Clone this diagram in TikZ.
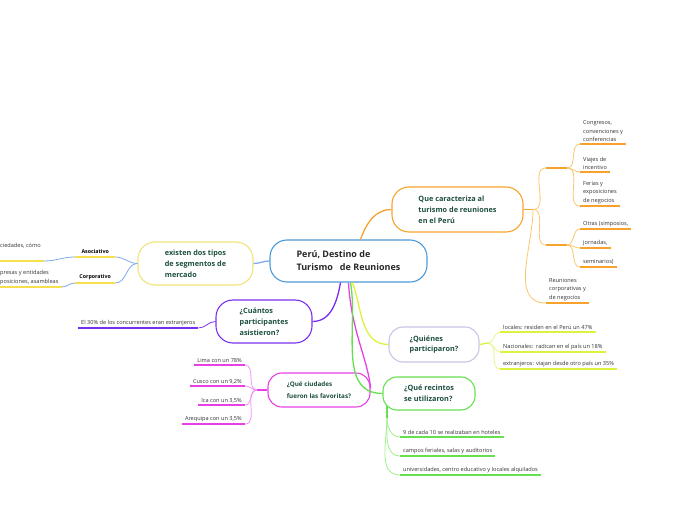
\documentclass[tikz,border=0pt]{standalone}
\usepackage{fontspec}
\setmainfont{Open Sans}
\usetikzlibrary{positioning}

\definecolor{cblue}{HTML}{4A9AD9}
\definecolor{cbluel}{HTML}{7FA8EE}
\definecolor{corange}{HTML}{F7A32B}
\definecolor{corangel}{HTML}{FBC66E}
\definecolor{cyellow}{HTML}{F2E27A}
\definecolor{cyellowd}{HTML}{F5DF4D}
\definecolor{cpurple}{HTML}{7A2FF0}
\definecolor{cmagenta}{HTML}{E640E6}
\definecolor{cmagental}{HTML}{F590F5}
\definecolor{clav}{HTML}{CBC3E6}
\definecolor{clime}{HTML}{DDF23C}
\definecolor{climel}{HTML}{E6F58A}
\definecolor{cgreen}{HTML}{66E050}
\definecolor{cgreenl}{HTML}{9CF08A}
\definecolor{ctext}{HTML}{1C4F3A}
\definecolor{cleaf}{HTML}{333333}

\begin{document}
\begin{tikzpicture}[x=1pt, y=1pt,
    topic/.style={draw, line width=1.1pt, rounded corners=17pt, text=ctext, align=left,
      font=\fontsize{7.3}{10.8}\selectfont\bfseries},
    leaf/.style={text=cleaf, align=left, inner xsep=3pt, inner ysep=2pt,
      font=\fontsize{5.6}{8.5}\selectfont},
    branch/.style={line width=1.3pt},
    twig/.style={line width=0.8pt},
    uline/.style={line width=1.4pt}]
    \useasboundingbox (0,0) rectangle (696,520);

    % Main topics
    \node[topic, draw=cblue, minimum width=157, minimum height=42, text=black!85,
      font=\fontsize{9}{13}\selectfont\bfseries] (ctr) at (348.5,259) {Perú, Destino de\\Turismo\ \ \ de Reuniones};
    \node[topic, draw=corange, minimum width=131, minimum height=45] (orn) at (457.5,310.5) {Que caracteriza al\\turismo de reuniones\\en el Perú};
    \node[topic, draw=cyellow, minimum width=115, minimum height=43] (yel) at (195.5,256.5) {existen dos tipos\\de segmentos de\\mercado};
    \node[topic, draw=cpurple, minimum width=96, minimum height=43] (pur) at (264,198.5) {¿Cuántos\\participantes\\asistieron?};
    \node[topic, draw=cmagenta, minimum width=102, minimum height=34, rounded corners=14pt,
      font=\fontsize{6.3}{12}\selectfont\bfseries] (mag) at (319,130) {¿Qué ciudades\\fueron las favoritas?};
    \node[topic, draw=clav, minimum width=90, minimum height=35, rounded corners=14pt] (lav) at (434,175.5) {¿Quiénes\\participaron?};
    \node[topic, draw=cgreen, minimum width=92, minimum height=33, rounded corners=14pt] (grn) at (429,126.5) {¿Qué recintos\\se utilizaron?};

    % Branches from the centre
    \draw[branch, corange] ([xshift=12]ctr.north) to[out=70, in=180] (orn.west);
    \draw[branch, cbluel] (ctr.west) to[out=180, in=0] (yel.east);
    \draw[branch, cpurple] ([xshift=-8]ctr.south) to[out=-100, in=0] (pur.east);
    \draw[branch, cmagenta] (ctr.south) .. controls (351,190) and (368,160) .. ([yshift=2]mag.east);
    \draw[branch, cgreen] ([xshift=2]ctr.south) to[out=-80, in=180] (grn.west);
    \draw[branch, clime] ([xshift=4]ctr.south) to[out=-70, in=180] (lav.west);

    % Orange branch: hubs and leaves
    \coordinate (oj) at (533,310.5);
    \coordinate (oha) at (546,352); \coordinate (ohb) at (567,352);
    \coordinate (oca) at (546,275); \coordinate (ocb) at (567,275);
    \node[leaf, anchor=south west] (congr) at (580,376) {Congresos,\\convenciones y\\conferencias};
    \node[leaf, anchor=south west] (viaj) at (580,348) {Viajes de\\incentivo};
    \node[leaf, anchor=south west] (feri) at (580,314) {Ferias y\\exposiciones\\de negocios};
    \node[leaf, anchor=south west] (otra) at (580,291) {Otras (simposios,};
    \node[leaf, anchor=south west] (jorn) at (580,272) {jornadas,};
    \node[leaf, anchor=south west] (semi) at (580,253) {seminarios)};
    \node[leaf, anchor=south west] (reun) at (546,217) {Reuniones\\corporativas y\\de negocios};
    \draw[branch, corange] (orn.east) -- (oj);
    \draw[twig, corangel] (oj) to[out=0, in=180] (oha);
    \draw[twig, corangel] (oj) to[out=0, in=180] (oca);
    \draw[twig, corangel] (oj) to[out=-90, in=180] (reun.south west);
    \draw[uline, corange] (oha) -- (ohb);
    \draw[uline, corange] (oca) -- (ocb);
    \foreach \n in {congr, viaj, feri}
      \draw[twig, corangel] (ohb) to[out=0, in=180] (\n.south west);
    \foreach \n in {otra, jorn, semi}
      \draw[twig, corangel] (ocb) to[out=0, in=180] (\n.south west);
    \foreach \n in {congr, viaj, feri, otra, jorn, semi, reun}
      \draw[uline, corange] (\n.south west) -- (\n.south east);

    % Segments (left)
    \node[leaf, anchor=south west, minimum width=40, inner ysep=3pt, text=black,
      font=\fontsize{5.3}{8.5}\selectfont\bfseries] (asoc) at (75,263) {Asociativo};
    \node[leaf, anchor=south west, minimum width=40, inner ysep=3pt, text=black,
      font=\fontsize{5.3}{8.5}\selectfont\bfseries] (corp) at (75,237) {Corporativo};
    \node[leaf, anchor=south west, text depth=11pt] (soci) at (-3,259) {ciedades, cómo};
    \node[leaf, anchor=south west] (empr) at (-3,233) {presas y entidades\\posiciones, asambleas};
    \draw[twig, cbluel] (yel.west) to[out=180, in=0] (asoc.south east);
    \draw[twig, cbluel] (yel.west) to[out=180, in=0] (corp.south east);
    \draw[twig, cbluel] (asoc.south west) to[out=180, in=0] (soci.south east);
    \draw[twig, cbluel] (corp.south west) to[out=180, in=0] (empr.south east);
    \foreach \n in {asoc, corp, soci, empr}
      \draw[uline, cyellowd] (\n.south west) -- (\n.south east);

    % Participants
    \node[leaf, anchor=south west] (conc) at (78,192) {El 30\% de los concurrentes eran extranjeros};
    \draw[twig, cpurple] (conc.south east) to[out=0, in=180] (pur.west);
    \draw[uline, cpurple] (conc.south west) -- (conc.south east);

    % Cities
    \coordinate (mh) at (257,130);
    \node[leaf, anchor=south east] (lima) at (245,155) {Lima con un 78\%};
    \node[leaf, anchor=south east] (cusc) at (245,134) {Cusco con un 9,2\%};
    \node[leaf, anchor=south east] (ica) at (245,115) {Ica con un 3,5\%};
    \node[leaf, anchor=south east] (areq) at (245,96) {Arequipa con un 3,5\%};
    \draw[branch, cmagenta] (mag.west) -- (mh);
    \foreach \n in {lima, cusc, ica, areq} {
      \draw[twig, cmagental] (mh) to[out=180, in=0] (\n.south east);
      \draw[uline, cmagenta] (\n.south west) -- (\n.south east);
    }

    % Who took part
    \coordinate (lh) at (488,177);
    \node[leaf, anchor=south west] (loca) at (500,188) {locales: residen en el Perú un 47\%};
    \node[leaf, anchor=south west] (naci) at (500,168) {Nacionales:\ \ radican en el país un 18\%};
    \node[leaf, anchor=south west] (extr) at (500,151) {extranjeros: viajan desde otro país un 35\%};
    \draw[branch, clime] (lav.east) -- (lh);
    \foreach \n in {loca, naci, extr} {
      \draw[twig, climel] (lh) to[out=0, in=180] (\n.south west);
      \draw[uline, clime] (\n.south west) -- (\n.south east);
    }

    % Venues
    \coordinate (gs) at (387,114);
    \coordinate (gj) at (387,102);
    \node[leaf, anchor=south west] (hote) at (400,83) {9 de cada 10 se realizaban en hoteles};
    \node[leaf, anchor=south west] (camp) at (400,64) {campos feriales, salas y auditorios};
    \node[leaf, anchor=south west] (univ) at (400,45) {universidades, centro educativo y locales alquilados};
    \draw[branch, cgreen] (gs) -- (gj);
    \foreach \n in {hote, camp, univ} {
      \draw[twig, cgreenl] (gj) to[out=-90, in=180] (\n.south west);
      \draw[uline, cgreen] (\n.south west) -- (\n.south east);
    }
\end{tikzpicture}
\end{document}
